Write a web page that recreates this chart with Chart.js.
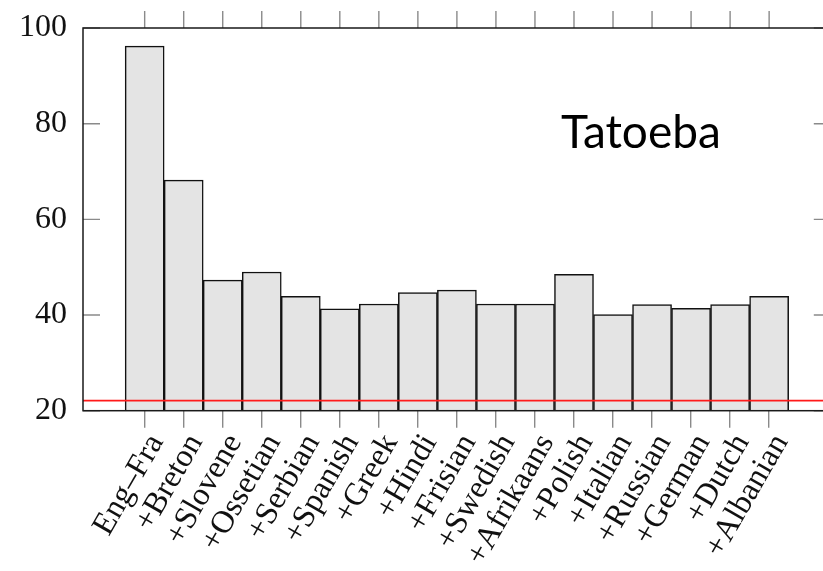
<!DOCTYPE html>
<html>
<head>
<meta charset="utf-8">
<script src="https://cdn.jsdelivr.net/npm/chart.js@4/dist/chart.umd.min.js"></script>
<style>
  html, body { margin: 0; padding: 0; background: #fff; overflow: hidden; }
  #wrap { width: 840px; height: 571px; }
</style>
</head>
<body>
<div id="wrap"><canvas id="c" width="840" height="571"></canvas></div>
<script>
// Languages added one at a time, starting from the Eng–Fra pair
const categories = ['Eng\u2013Fra', '+Breton', '+Slovene', '+Ossetian', '+Serbian', '+Spanish',
  '+Greek', '+Hindi', '+Frisian', '+Swedish', '+Afrikaans', '+Polish', '+Italian',
  '+Russian', '+German', '+Dutch', '+Albanian'];
// Accuracy per step
const scores = [96.2, 68.2, 47.3, 49.0, 43.9, 41.3, 42.3, 44.7, 45.2, 42.3, 42.3, 48.5, 40.1, 42.2, 41.4, 42.2, 43.9];
// Reference level (red line)
const baseline = 22.1;
const yTicks = [20, 40, 60, 80, 100];
const panelTitle = 'Tatoeba';

const X_MIN = -1.58, X_MAX = 17.58;
const serif = '"Liberation Serif", "DejaVu Serif", serif';

// pgfplots-style frame: full box, outward x ticks on top, inward y ticks on both sides
const framePlugin = {
  id: 'frame',
  afterDraw(chart) {
    const { ctx, chartArea: a, scales: { x, y } } = chart;
    ctx.save();
    ctx.strokeStyle = '#8a8a8a';
    ctx.lineWidth = 1.4;
    ctx.beginPath();
    x.ticks.forEach(t => {
      const px = x.getPixelForValue(t.value);
      ctx.moveTo(px, a.top);
      ctx.lineTo(px, a.top - 17);
    });
    y.ticks.forEach(t => {
      const py = y.getPixelForValue(t.value);
      ctx.moveTo(a.left, py);
      ctx.lineTo(a.left + 17, py);
      ctx.moveTo(a.right, py);
      ctx.lineTo(a.right - 17, py);
    });
    ctx.stroke();
    ctx.strokeStyle = '#1a1a1a';
    ctx.lineWidth = 1.5;
    ctx.strokeRect(a.left, a.top, a.right - a.left, a.bottom - a.top);
    // panel title
    ctx.fillStyle = '#000';
    ctx.font = '46px Lato, "Noto Sans", sans-serif';
    ctx.textAlign = 'left';
    ctx.textBaseline = 'alphabetic';
    ctx.fillText(panelTitle, 561, 148);
    ctx.restore();
  }
};

new Chart(document.getElementById('c'), {
  type: 'bar',
  data: {
    datasets: [
      {
        type: 'line',
        data: [{ x: X_MIN, y: baseline }, { x: X_MAX, y: baseline }],
        borderColor: '#ff1a1a',
        borderWidth: 1.6,
        pointRadius: 0,
        order: 0
      },
      {
        data: scores.map((v, i) => ({ x: i, y: v })),
        backgroundColor: '#e4e4e4',
        borderColor: '#111',
        borderWidth: 1.5,
        borderSkipped: false,
        barPercentage: 1,
        categoryPercentage: 1,
        order: 1
      }
    ]
  },
  options: {
    responsive: false,
    animation: false,
    layout: { padding: { left: 0, top: 28, right: 9.2, bottom: 0 } },
    plugins: { legend: { display: false }, tooltip: { enabled: false } },
    scales: {
      x: {
        type: 'linear',
        offset: false,
        min: X_MIN,
        max: X_MAX,
        afterBuildTicks: axis => { axis.ticks = categories.map((_, i) => ({ value: i })); },
        afterFit: axis => { axis.height = 160.3; axis.paddingLeft = 0; axis.paddingRight = 0; },
        border: { display: false },
        grid: { offset: false, drawOnChartArea: false, drawTicks: true, tickLength: 17, color: '#8a8a8a', lineWidth: 1.4 },
        ticks: {
          autoSkip: false,
          minRotation: 60,
          maxRotation: 60,
          padding: 0,
          labelOffset: 12,
          color: '#111',
          font: { family: serif, size: 32 },
          callback: v => categories[v]
        }
      },
      y: {
        min: 20,
        max: 100,
        afterBuildTicks: axis => { axis.ticks = yTicks.map(v => ({ value: v })); },
        afterFit: axis => { axis.width = 83; axis.paddingTop = 0; axis.paddingBottom = 0; },
        border: { display: false },
        grid: { display: false, drawTicks: false },
        ticks: {
          padding: 16,
          color: '#111',
          font: { family: serif, size: 32 }
        }
      }
    }
  },
  plugins: [framePlugin]
});
</script>
</body>
</html>
